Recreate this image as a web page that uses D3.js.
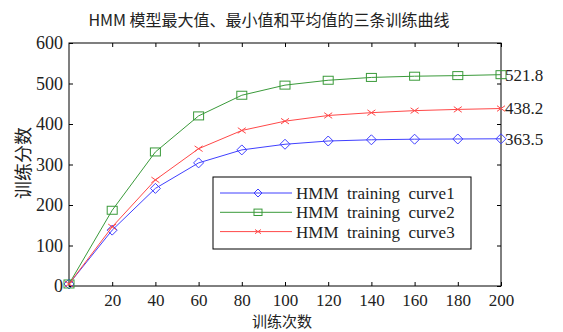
<!DOCTYPE html>
<html><head><meta charset="utf-8">
<script src="https://cdn.jsdelivr.net/npm/d3@7"></script>
<style>body{margin:0;background:#fff}svg{display:block}</style>
</head><body>
<script>
const iterations = [0, 20, 40, 60, 80, 100, 120, 140, 160, 180, 200];
const curve1 = [5, 138, 241, 304, 336, 350, 358, 361, 362.5, 363, 363.5];
const curve2 = [5, 187, 331, 420, 471, 496, 508, 515, 518, 519.5, 521.8];
const curve3 = [5, 146, 262, 339, 384, 407, 421, 428, 433, 436, 438.2];
const seriesNames = ["HMM  training  curve1", "HMM  training  curve2", "HMM  training  curve3"];
const endLabels = ["363.5", "521.8", "438.2"];
const xTicks = [20, 40, 60, 80, 100, 120, 140, 160, 180, 200];
const yTicks = [0, 100, 200, 300, 400, 500, 600];
const title = "HMM 模型最大值、最小值和平均值的三条训练曲线";
const xLabel = "训练次数";
const yLabel = "训练分数";

const W = 563, H = 332;
const m = {l: 69, r: 62, t: 43, b: 46};
const iw = W - m.l - m.r, ih = H - m.t - m.b;
const serif = "'Liberation Serif','DejaVu Serif',serif";
const cjk = "'Noto Sans CJK SC',sans-serif";

const svg = d3.select("body").append("svg").attr("width", W).attr("height", H);
const g = svg.append("g").attr("transform", `translate(${m.l},${m.t})`);
const x = d3.scaleLinear().domain([0, 200]).range([0, iw]);
const y = d3.scaleLinear().domain([0, 600]).range([ih, 0]);

g.append("rect").attr("width", iw).attr("height", ih).attr("fill", "none").attr("stroke", "#000").attr("stroke-width", 1);

function styleAxis(sel){ sel.select(".domain").remove(); sel.selectAll("line").attr("stroke","#000"); }
g.append("g").attr("transform", `translate(0,${ih})`)
  .call(d3.axisBottom(x).tickValues(xTicks).tickSize(-4).tickPadding(8).tickFormat(d3.format("d")))
  .call(styleAxis)
  .call(s => s.selectAll("text").attr("font-family", serif).attr("font-size", 17).attr("fill", "#222"));
g.append("g").call(d3.axisTop(x).tickValues(xTicks).tickSize(-4).tickFormat(""))
  .call(styleAxis);
g.append("g")
  .call(d3.axisLeft(y).tickValues(yTicks).tickSize(-4).tickPadding(6).tickFormat(d3.format("d")))
  .call(styleAxis)
  .call(s => s.selectAll("text").attr("font-family", serif).attr("font-size", 18).attr("fill", "#222"));
g.append("g").attr("transform", `translate(${iw},0)`)
  .call(d3.axisRight(y).tickValues(yTicks).tickSize(-4).tickFormat(""))
  .call(styleAxis);

const colors = ["#4040ff", "#3a9a3a", "#ff4848"];
const data = [curve1, curve2, curve3];
const line = d3.line().x((d, i) => x(iterations[i])).y(d => y(d));

function marker(sel, k, size){
  sel.each(function(){
    const s = d3.select(this);
    if (k === 0) s.append("path").attr("d", `M0,${-size}L${size},0L0,${size}L${-size},0Z`).attr("fill","none").attr("stroke",colors[k]);
    else if (k === 1) s.append("rect").attr("x",-size).attr("y",-size*0.8).attr("width",size*2).attr("height",size*1.6).attr("fill","none").attr("stroke",colors[k]);
    else s.append("path").attr("d", `M${-size},${-size*0.7}L${size},${size*0.7}M${-size},${size*0.7}L${size},${-size*0.7}`).attr("stroke",colors[k]);
  });
}
const msize = [5, 5, 4];

data.forEach((vals, k) => {
  g.append("path").datum(vals).attr("d", line).attr("fill", "none").attr("stroke", colors[k]).attr("stroke-width", 1);
  g.selectAll(null).data(vals).enter().append("g")
    .attr("transform", (d, i) => `translate(${x(iterations[i])},${y(d)})`)
    .call(sel => marker(sel, k, msize[k]));
  g.append("text").attr("x", iw + 4).attr("y", y(vals[vals.length-1])).attr("dy", "0.35em")
    .attr("font-family", serif).attr("font-size", 17).attr("fill", "#222").text(endLabels[k]);
});

const lg = svg.append("g").attr("transform", "translate(213,177)");
lg.append("rect").attr("width", 258).attr("height", 72).attr("fill", "#fff").attr("stroke", "#000");
seriesNames.forEach((name, k) => {
  const yy = 16 + k * 19.3;
  lg.append("line").attr("x1", 7).attr("x2", 79).attr("y1", yy).attr("y2", yy).attr("stroke", colors[k]);
  lg.append("g").attr("transform", `translate(45,${yy})`).call(sel => marker(sel, k, k===2?3:4));
  lg.append("text").attr("x", 83).attr("y", yy).attr("dy", "0.35em").attr("font-family", serif)
    .attr("font-size", 17).attr("fill", "#222").style("white-space","pre").text(name);
});

svg.append("text").attr("x", 269).attr("y", 26).attr("text-anchor", "middle")
  .attr("font-family", cjk).attr("font-size", 16).attr("fill", "#222").text(title);
svg.append("text").attr("x", 282).attr("y", 327).attr("text-anchor", "middle")
  .attr("font-family", cjk).attr("font-size", 15).attr("fill", "#222").text(xLabel);
svg.append("text").attr("transform", "translate(30,163) rotate(-90)").attr("text-anchor", "middle")
  .attr("font-family", cjk).attr("font-size", 18).attr("fill", "#222").text(yLabel);
</script>
</body></html>
